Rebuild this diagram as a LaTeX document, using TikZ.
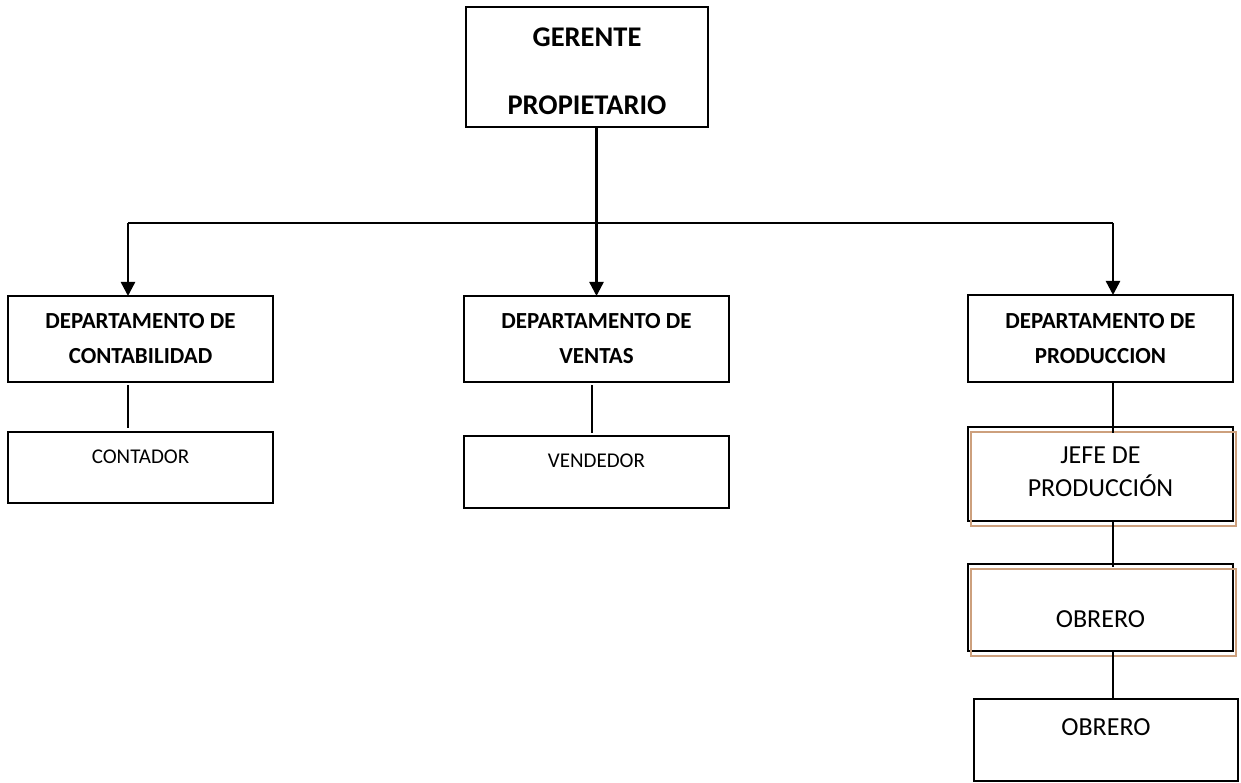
\documentclass[tikz,border=0pt]{standalone}
\usepackage{fontspec}
\setmainfont{Carlito}
\usetikzlibrary{arrows.meta}
\definecolor{tanline}{RGB}{205,160,125}
\begin{document}
\begin{tikzpicture}[x=1pt,y=-1pt,
  box/.style={draw=black, line width=1.8pt, inner sep=0pt, outer sep=0pt, minimum width=265pt},
  shadowbox/.style={draw=tanline, line width=1.6pt},
  arrline/.style={line width=2.4pt, -{Triangle[width=14pt,length=14pt]}},
  barline/.style={line width=2pt},
  linkline/.style={line width=1.5pt},
  bigtxt/.style={inner sep=0pt, anchor=base, font=\fontsize{28.5}{32}\selectfont\bfseries},
  depttxt/.style={inner sep=0pt, anchor=base, font=\fontsize{23}{27}\selectfont\bfseries},
  smalltxt/.style={inner sep=0pt, anchor=base, font=\fontsize{21}{25}\selectfont},
  midtxt/.style={inner sep=0pt, anchor=base, font=\fontsize{26}{30}\selectfont}]
\useasboundingbox[fill=white] (0,0) rectangle (1241,783);

% boxes
\node[box, minimum width=242pt, minimum height=120pt] (ger) at (587,67) {};
\node[box, minimum height=86pt] (cont) at (140.5,339) {};
\node[box, minimum height=86pt] (vent) at (596.5,339) {};
\node[box, minimum height=87pt] (prod) at (1100.5,338.5) {};
\node[box, minimum height=71pt] (contador) at (140.5,467.5) {};
\node[box, minimum height=72pt] (vendedor) at (596.5,472) {};
\node[box, minimum height=94pt] (jefe) at (1100.5,474) {};
\node[box, minimum height=87pt] (obr1) at (1100.5,607.5) {};
\node[box, minimum width=264pt, minimum height=82pt] (obr2) at (1106,740) {};

% tan offset frames
\draw[shadowbox] ([xshift=3pt,yshift=-5pt]jefe.north west) rectangle ([xshift=3pt,yshift=-5pt]jefe.south east);
\draw[shadowbox] ([xshift=3pt,yshift=-5pt]obr1.north west) rectangle ([xshift=3pt,yshift=-5pt]obr1.south east);

% texts
\node[bigtxt] (t1) at (587,47) {GERENTE};
\node[bigtxt] (t2) at (587,115) {PROPIETARIO};
\node[depttxt] (t3) at (140.5,328) {DEPARTAMENTO DE};
\node[depttxt] (t4) at (140.5,363) {CONTABILIDAD};
\node[depttxt] (t5) at (596.5,328) {DEPARTAMENTO DE};
\node[depttxt] (t6) at (596.5,363) {VENTAS};
\node[depttxt] (t7) at (1100.5,328) {DEPARTAMENTO DE};
\node[depttxt] (t8) at (1100.5,363) {PRODUCCION};
\node[smalltxt] (t9) at (140.5,463) {CONTADOR};
\node[smalltxt] (t10) at (596.5,467) {VENDEDOR};
\node[midtxt] (t11) at (1100.5,463) {JEFE DE};
\node[midtxt] (t12) at (1100.5,496) {PRODUCCIÓN};
\node[midtxt] (t13) at (1100.5,627) {OBRERO};
\node[midtxt] (t14) at (1106,735) {OBRERO};

% connectors
\coordinate (bar) at (0,223);
\draw[barline] ([xshift=-12.5pt]cont.north |- bar) -- ([xshift=12.5pt]prod.north |- bar);
\draw[arrline] (vent.north |- ger.south) -- (vent.north);
\draw[arrline] ([xshift=-12.5pt]cont.north |- bar) -- ([xshift=-12.5pt]cont.north);
\draw[arrline] ([xshift=12.5pt]prod.north |- bar) -- ([xshift=12.5pt]prod.north);

\draw[linkline, shorten <=3pt, shorten >=4pt] ([xshift=-12.5pt]cont.south) -- ([xshift=-12.5pt]contador.north);
\draw[linkline, shorten <=3pt, shorten >=3pt] ([xshift=-4.5pt]vent.south) -- ([xshift=-4.5pt]vendedor.north);
\draw[linkline, shorten >=-6pt] ([xshift=12.5pt]prod.south) -- ([xshift=12.5pt]jefe.north);
\draw[linkline, shorten >=-3pt] ([xshift=12.5pt]jefe.south) -- ([xshift=12.5pt]obr1.north);
\draw[linkline] ([xshift=12.5pt]obr1.south) -- ([xshift=7pt]obr2.north);
\end{tikzpicture}
\end{document}
